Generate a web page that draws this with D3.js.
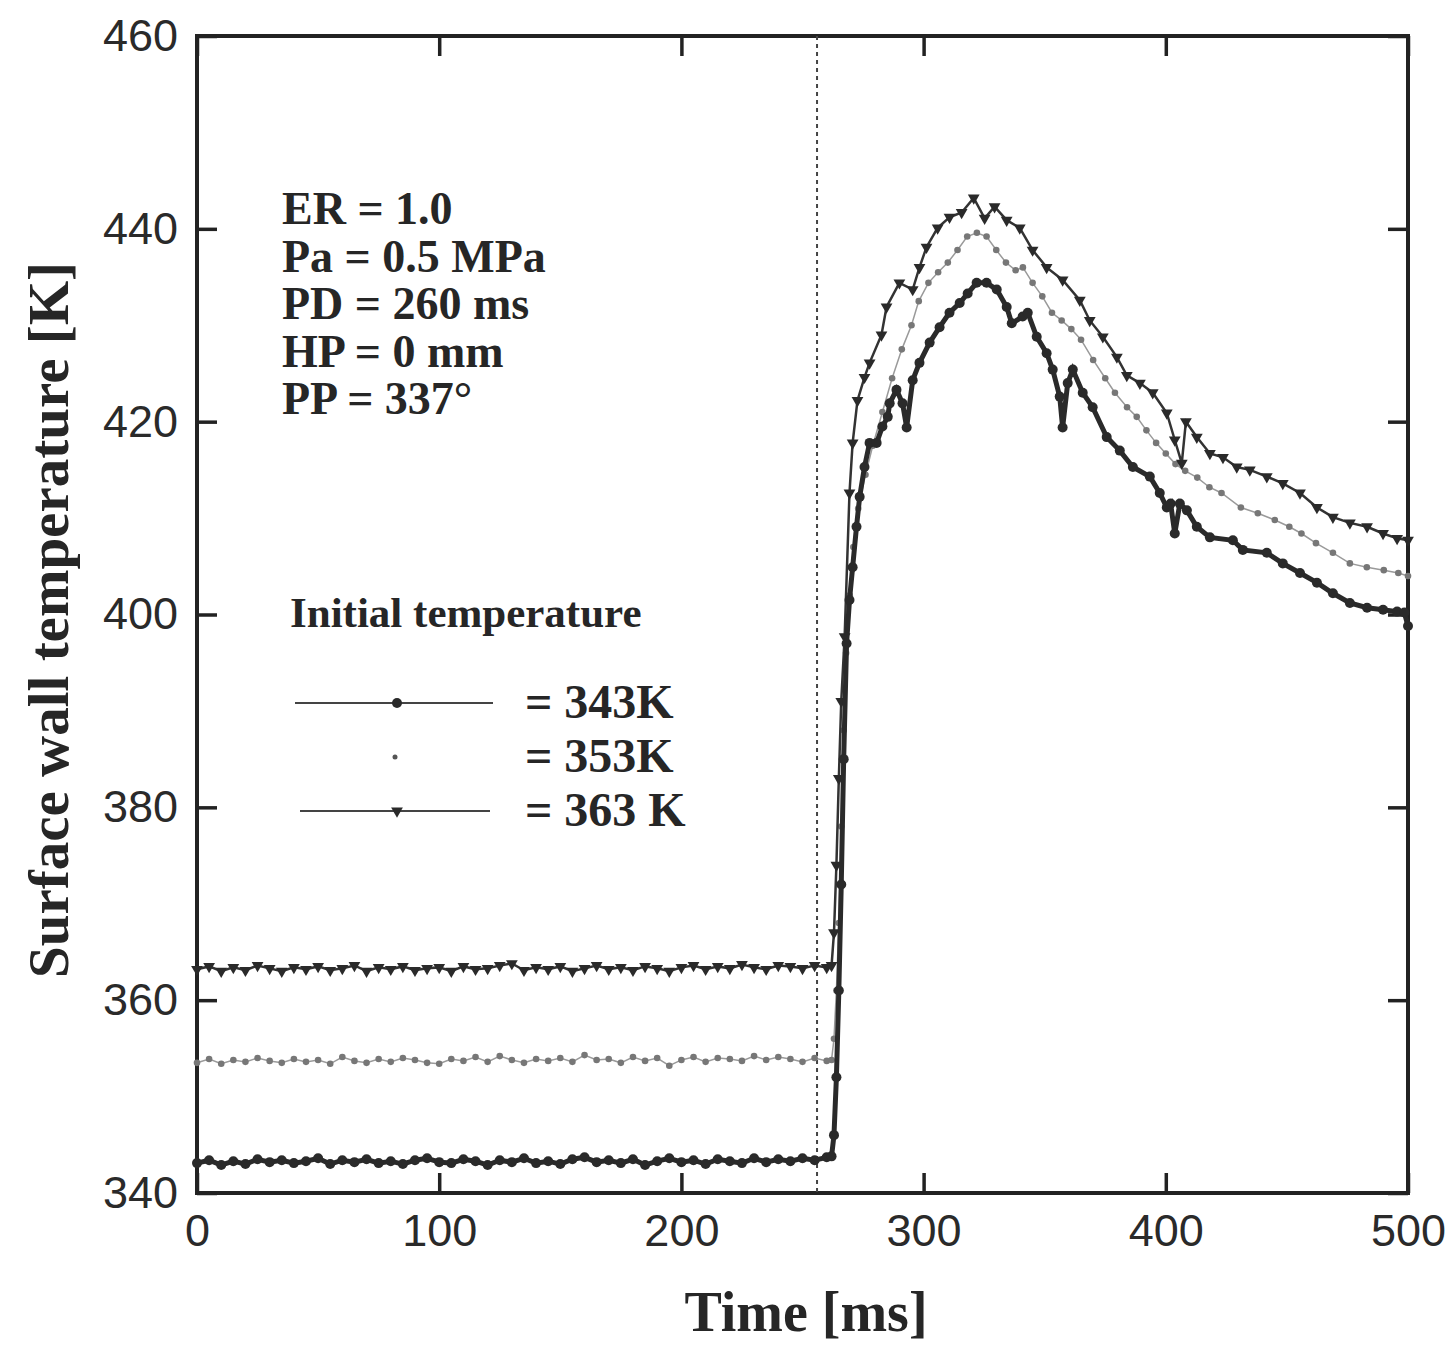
<!DOCTYPE html>
<html>
<head>
<meta charset="utf-8">
<script src="https://cdn.jsdelivr.net/npm/d3@7"></script>
<style>
  body { margin: 0; background: #fff; }
  svg { display: block; }
  .serif { font-family: "Liberation Serif", "DejaVu Serif", serif; font-weight: bold; fill: #262626; }
  .tick text { font-family: "Liberation Sans", Arial, sans-serif; font-size: 45px; fill: #2a2a2a; }
</style>
</head>
<body>
<svg id="chart"></svg>
<script>
const WIDTH = 1447;
const HEIGHT = 1350;

// time axis ticks and temp axis ticks
const xTicks = [0, 100, 200, 300, 400, 500];
const yTicks = [340, 360, 380, 400, 420, 440, 460];

// baseline sampling (ms) before the pulse
const baseTime = [0, 5, 10, 15, 20, 25, 30, 35, 40, 45,
                  50, 55, 60, 65, 70, 75, 80, 85, 90, 95,
                  100, 105, 110, 115, 120, 125, 130, 135, 140, 145,
                  150, 155, 160, 165, 170, 175, 180, 185, 190, 195,
                  200, 205, 210, 215, 220, 225, 230, 235, 240, 245,
                  250, 255, 260];

const base343 = [343.1, 343.4, 342.9, 343.3, 343.0, 343.5, 343.2, 343.4, 343.1, 343.3,
                 343.6, 343.0, 343.4, 343.2, 343.5, 343.1, 343.3, 343.0, 343.4, 343.6,
                 343.2, 343.1, 343.5, 343.3, 342.9, 343.4, 343.2, 343.6, 343.1, 343.3,
                 343.0, 343.5, 343.7, 343.2, 343.4, 343.1, 343.5, 342.9, 343.3, 343.6,
                 343.2, 343.4, 343.0, 343.5, 343.3, 343.1, 343.6, 343.2, 343.5, 343.3,
                 343.6, 343.4, 343.7];
const base353 = [353.5, 353.9, 353.4, 353.8, 353.6, 354.0, 353.7, 353.5, 353.9, 353.6,
                 353.8, 353.4, 354.1, 353.7, 353.5, 353.9, 353.6, 354.0, 353.8, 353.5,
                 353.4, 353.9, 353.7, 354.1, 353.6, 354.2, 353.8, 353.5, 353.9, 353.7,
                 354.0, 353.6, 354.3, 353.8, 353.9, 353.5, 354.1, 353.7, 354.0, 353.2,
                 353.8, 354.1, 353.6, 354.0, 353.9, 353.7, 354.2, 353.8, 354.1, 353.9,
                 353.6, 354.0, 353.7];
const base363 = [363.2, 363.5, 363.0, 363.4, 363.1, 363.6, 363.3, 363.0, 363.4, 363.2,
                 363.5, 363.1, 363.3, 363.6, 363.0, 363.4, 363.2, 363.5, 363.1, 363.3,
                 363.4, 363.0, 363.5, 363.2, 363.3, 363.6, 363.8, 363.1, 363.4, 363.2,
                 363.5, 363.0, 363.3, 363.6, 363.2, 363.4, 363.1, 363.5, 363.3, 363.0,
                 363.4, 363.6, 363.2, 363.5, 363.3, 363.7, 363.4, 363.2, 363.6, 363.5,
                 363.3, 363.6, 363.4];

// after the pulse
const time343 = [262, 263, 264, 265, 266, 267, 268.2, 269.4, 270.7, 272.3, 273.6,
                 275.6, 277.7, 280.6, 283, 285.2, 286, 288.8, 291.3, 293, 295.5,
                 298.3, 302.5, 306.6, 310.7, 314.9, 318.2, 321.9, 326, 330.2, 334.3,
                 336.4, 340.9, 343, 346.7, 350.8, 353.3, 356.2, 357.4, 359.5, 361.6,
                 365.7, 369.8, 375.6, 381, 386.4, 393.4, 397.5, 400.4, 402, 403.7,
                 405.8, 408.7, 412.8, 418.2, 427.7, 431.8, 441.7, 448.3, 455.4, 462.4,
                 469, 476, 483.1, 489.7, 495.5, 498.5, 500];
const temp343 = [343.8, 346, 352, 361, 372, 385, 397, 401.5, 404.9, 409.1, 412.2,
                 415.3, 417.8, 417.8, 419.5, 420.5, 421.9, 423.3, 421.9, 419.4, 424.3,
                 426.1, 428.2, 429.8, 431.3, 432.3, 433.3, 434.4, 434.4, 433.7, 431.9,
                 430.2, 430.9, 431.3, 428.8, 427.1, 425.4, 422.6, 419.4, 424, 425.4,
                 423, 421.5, 418.4, 417, 415.3, 414.3, 412.6, 411.1, 411.5, 408.4,
                 411.5, 410.8, 409.1, 408, 407.7, 406.7, 406.4, 405.3, 404.3, 403.3,
                 402.2, 401.2, 400.7, 400.5, 400.3, 400.2, 398.8];

const time353 = [262, 263, 264, 265, 266, 267, 268, 269.5, 271, 273, 276, 279,
                 283, 287, 291, 295, 298, 302, 306, 310, 314, 318,
                 322, 326, 330, 334, 338, 341, 345, 349, 353, 357,
                 361, 365, 370, 375, 379, 384, 388, 392, 396, 400,
                 404, 408, 413, 418, 423, 431, 438, 445, 451, 456,
                 462, 469, 476, 483, 490, 496, 500];
const temp353 = [353.8, 356, 361, 368, 378, 388, 396, 402, 407, 411, 414.5, 417.5,
                 421, 424.5, 427.5, 430, 432.5, 434.4, 435.5, 436.5, 437.8, 439.2,
                 439.6, 439.2, 437.8, 436.5, 435.7, 436, 434.4, 433, 431.3, 430.5,
                 429.6, 428.5, 426.4, 424.5, 423, 421.5, 420.5, 419.1, 417.8, 416.7,
                 415.6, 414.9, 414.2, 413.2, 412.6, 411.1, 410.5, 409.8, 409.1, 408.4,
                 407.4, 406.4, 405.3, 404.9, 404.6, 404.3, 404];

const time363 = [262, 263, 264, 265, 266, 267.4, 269.4, 270.7, 272.7, 275.6,
                 277.7, 282.6, 284.7, 290, 295.5, 298.3, 301.2, 305.8, 310.7, 315.7,
                 320.7, 325.2, 329.3, 334.3, 339.7, 345, 350.8, 357.4, 364.5, 368.6,
                 374, 379.8, 383.9, 389.3, 394.6, 400.4, 403.7, 406.6, 408.3, 412.8,
                 418.2, 423.6, 429.3, 434.7, 441.7, 448.3, 455.4, 462.4, 469, 476,
                 483.1, 489.7, 495.5, 500];
const temp363 = [363.6, 367, 374, 383, 391, 397.7, 412.6, 417.8, 422.2, 424.6,
                 426.1, 429, 431.9, 434.4, 433.7, 436, 438.1, 440.1, 441.2, 441.7,
                 443.2, 441.1, 442.3, 440.9, 440.1, 437.8, 436, 434.7, 432.6, 430.5,
                 428.8, 426.7, 424.8, 424, 423, 420.9, 418.1, 415.7, 420, 418.4,
                 416.7, 416.3, 415.3, 415, 414.3, 413.6, 412.6, 411.1, 410.1, 409.5,
                 409.1, 408.4, 407.9, 407.7];

const pulseTime = 256; // dotted marker line
const paramLines = ["ER = 1.0", "Pa = 0.5 MPa", "PD = 260 ms", "HP = 0 mm", "PP = 337°"];
const legendLabels = ["= 343K", "= 353K", "= 363 K"];

function joinSeries(bt, bv, t, v){
    var pts = bt.map((d, i) => [d, bv[i]]);
    return pts.concat(t.map((d, i) => [d, v[i]]));
}

const svg = d3.select("#chart").attr("width", WIDTH).attr("height", HEIGHT);

const x = d3.scaleLinear().domain([0, 500]).range([197, 1408]);
const y = d3.scaleLinear().domain([340, 460]).range([1193, 36]);

// axes, ticks pointing inward
svg.append("g")
    .attr("transform", "translate(0," + y(340) + ")")
    .call(d3.axisBottom(x).tickValues(xTicks).tickSizeInner(-20).tickSizeOuter(0).tickPadding(21))
    .call(g => g.select(".domain").remove());
svg.append("g")
    .attr("transform", "translate(0," + y(460) + ")")
    .call(d3.axisTop(x).tickValues(xTicks).tickSizeInner(-20).tickSizeOuter(0).tickFormat(""))
    .call(g => g.select(".domain").remove());
svg.append("g")
    .attr("transform", "translate(" + x(0) + ",0)")
    .call(d3.axisLeft(y).tickValues(yTicks).tickSizeInner(-20).tickSizeOuter(0).tickPadding(19))
    .call(g => g.select(".domain").remove());
svg.append("g")
    .attr("transform", "translate(" + x(500) + ",0)")
    .call(d3.axisRight(y).tickValues(yTicks).tickSizeInner(-20).tickSizeOuter(0).tickFormat(""))
    .call(g => g.select(".domain").remove());

svg.selectAll(".tick line").attr("stroke", "#222").attr("stroke-width", 3.5);

svg.append("rect")
    .attr("x", x(0)).attr("y", y(460))
    .attr("width", x(500) - x(0)).attr("height", y(340) - y(460))
    .attr("fill", "none").attr("stroke", "#222").attr("stroke-width", 4);

// pulse marker
svg.append("line")
    .attr("x1", x(pulseTime)).attr("x2", x(pulseTime))
    .attr("y1", y(460)).attr("y2", y(340))
    .attr("stroke", "#444").attr("stroke-width", 2).attr("stroke-dasharray", "4,4");

const line = d3.line().x(d => x(d[0])).y(d => y(d[1]));
const tri = d3.symbol().type(d3.symbolTriangle).size(60);

const s343 = joinSeries(baseTime, base343, time343, temp343);
const s353 = joinSeries(baseTime, base353, time353, temp353);
const s363 = joinSeries(baseTime, base363, time363, temp363);

// 353 K : small grey dots
svg.append("path").datum(s353).attr("d", line)
    .attr("fill", "none").attr("stroke", "#9a9a9a").attr("stroke-width", 1.5);
svg.append("g").selectAll("circle").data(s353).join("circle")
    .attr("cx", d => x(d[0])).attr("cy", d => y(d[1])).attr("r", 3.3)
    .attr("fill", "#777");

// 363 K : thin line, down triangles
svg.append("path").datum(s363).attr("d", line)
    .attr("fill", "none").attr("stroke", "#333").attr("stroke-width", 2.5);
svg.append("g").selectAll("path").data(s363).join("path")
    .attr("d", tri)
    .attr("transform", d => "translate(" + x(d[0]) + "," + y(d[1]) + ") rotate(180)")
    .attr("fill", "#2a2a2a");

// 343 K : thick line, filled circles
svg.append("path").datum(s343).attr("d", line)
    .attr("fill", "none").attr("stroke", "#2a2a2a").attr("stroke-width", 5);
svg.append("g").selectAll("circle").data(s343).join("circle")
    .attr("cx", d => x(d[0])).attr("cy", d => y(d[1])).attr("r", 5)
    .attr("fill", "#2a2a2a");

// run parameters
svg.append("g").selectAll("text").data(paramLines).join("text")
    .attr("class", "serif")
    .attr("x", 282).attr("y", (d, i) => 224 + i * 47.5)
    .attr("font-size", 46)
    .text(d => d);

// legend
svg.append("text").attr("class", "serif")
    .attr("x", 290).attr("y", 627).attr("font-size", 43)
    .text("Initial temperature");

const legY = [703, 757, 811];
svg.append("line").attr("x1", 295).attr("x2", 493).attr("y1", legY[0]).attr("y2", legY[0])
    .attr("stroke", "#444").attr("stroke-width", 2);
svg.append("circle").attr("cx", 397).attr("cy", legY[0]).attr("r", 5).attr("fill", "#2a2a2a");
svg.append("circle").attr("cx", 395).attr("cy", legY[1]).attr("r", 2.5).attr("fill", "#555");
svg.append("line").attr("x1", 300).attr("x2", 490).attr("y1", legY[2]).attr("y2", legY[2])
    .attr("stroke", "#444").attr("stroke-width", 2);
svg.append("path").attr("d", tri)
    .attr("transform", "translate(397," + legY[2] + ") rotate(180)").attr("fill", "#2a2a2a");

svg.append("g").selectAll("text").data(legendLabels).join("text")
    .attr("class", "serif")
    .attr("x", 525).attr("y", (d, i) => legY[i] + 15)
    .attr("font-size", 48)
    .text(d => d);

// axis titles
svg.append("text").attr("class", "serif")
    .attr("text-anchor", "middle")
    .attr("transform", "translate(68,620) rotate(-90)")
    .attr("font-size", 57)
    .text("Surface wall temperature [K]");
svg.append("text").attr("class", "serif")
    .attr("text-anchor", "middle")
    .attr("x", 806).attr("y", 1331)
    .attr("font-size", 56)
    .text("Time [ms]");
</script>
</body>
</html>
